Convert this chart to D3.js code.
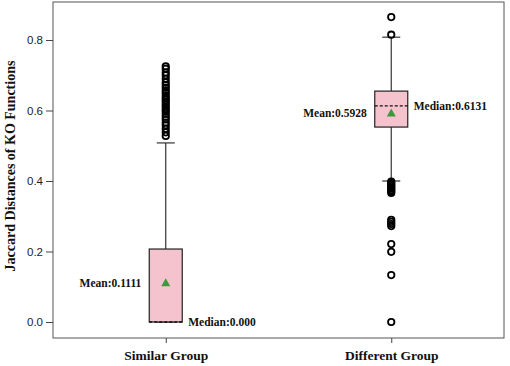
<!DOCTYPE html>
<html><head><meta charset="utf-8">
<script src="https://cdn.jsdelivr.net/npm/d3@7"></script>
<style>body{margin:0;background:#fff}svg{display:block}</style>
</head><body>
<script>
const categories = ["Similar Group", "Different Group"];
const q1 = [0.0, 0.553];
const medians = [0.0, 0.6131];
const q3 = [0.207, 0.655];
const whiskerLow = [0.0, 0.400];
const whiskerHigh = [0.508, 0.808];
const means = [0.1111, 0.5928];
const outliersSimilar = [0.725,0.718,0.708,0.70,0.69,0.68,0.672,0.665,0.657,0.65,0.643,0.636,0.63,0.624,0.617,0.61,0.603,0.597,0.59,0.582,0.575,0.566,0.558,0.548,0.538,0.528];
const outliersDifferent = [0.865,0.815,0.398,0.394,0.390,0.386,0.382,0.378,0.374,0.370,0.366,0.29,0.284,0.278,0.272,0.221,0.199,0.133,0.0];
const yTicks = [0.0, 0.2, 0.4, 0.6, 0.8];
const meanLabels = ["Mean:0.1111", "Mean:0.5928"];
const medianLabels = ["Median:0.000", "Median:0.6131"];
const outliers = [outliersSimilar, outliersDifferent];

const W = 510, H = 366;
const svg = d3.select("body").append("svg").attr("width", W).attr("height", H);
const L = 53, R = 504, T = 2, B = 338;
const y = d3.scaleLinear().domain([-0.0454, 0.9078]).range([B, T]);
const x = d3.scalePoint().domain(categories).range([L, R]).padding(0.5);
const bw = 33, cap = 18;

// frame
svg.append("rect").attr("x", L).attr("y", T).attr("width", R - L).attr("height", B - T)
  .attr("fill", "none").attr("stroke", "#555").attr("stroke-width", 1);

// y axis
const ya = svg.append("g").attr("transform", `translate(${L},0)`)
  .call(d3.axisLeft(y).tickValues(yTicks).tickFormat(d3.format(".1f")).tickSize(7).tickPadding(3));
ya.select(".domain").remove();
ya.selectAll("line").attr("stroke", "#444");
ya.selectAll("text").attr("font-family", "Liberation Sans, Arial, sans-serif").attr("font-size", 11.5).attr("fill", "#222");

// x axis
const xa = svg.append("g").attr("transform", `translate(0,${B})`)
  .call(d3.axisBottom(x).tickSize(5).tickPadding(7));
xa.select(".domain").remove();
xa.selectAll("line").attr("stroke", "#444");
xa.selectAll("text").attr("font-family", "Liberation Serif, Times New Roman, serif").attr("font-weight", "bold")
  .attr("font-size", 13.5).attr("fill", "#111");

// y title
svg.append("text").attr("transform", `translate(15,${(T + B) / 2 - 4}) rotate(-90)`)
  .attr("text-anchor", "middle").attr("font-family", "Liberation Serif, Times New Roman, serif")
  .attr("font-weight", "bold").attr("font-size", 14).attr("fill", "#111")
  .text("Jaccard Distances of KO Functions");

categories.forEach((c, i) => {
  const cx = x(c);
  const g = svg.append("g");
  g.append("line").attr("x1", cx).attr("x2", cx).attr("y1", y(q3[i])).attr("y2", y(whiskerHigh[i])).attr("stroke", "#333").attr("stroke-width", 1.2);
  g.append("line").attr("x1", cx).attr("x2", cx).attr("y1", y(q1[i])).attr("y2", y(whiskerLow[i])).attr("stroke", "#333").attr("stroke-width", 1.2);
  [whiskerHigh[i], whiskerLow[i]].forEach(v => {
    g.append("line").attr("x1", cx - cap / 2).attr("x2", cx + cap / 2).attr("y1", y(v)).attr("y2", y(v)).attr("stroke", "#333").attr("stroke-width", 1.2);
  });
  g.append("rect").attr("x", cx - bw / 2).attr("y", y(q3[i])).attr("width", bw).attr("height", y(q1[i]) - y(q3[i]))
    .attr("fill", "#f5c3cd").attr("stroke", "#222").attr("stroke-width", 1.2);
  g.append("line").attr("x1", cx - bw / 2).attr("x2", cx + bw / 2).attr("y1", y(medians[i])).attr("y2", y(medians[i]))
    .attr("stroke", "#111").attr("stroke-width", 1.3).attr("stroke-dasharray", "3,2");
  const ym = y(means[i]);
  g.append("path").attr("d", `M${cx},${ym - 4.5}L${cx + 4.5},${ym + 3.5}L${cx - 4.5},${ym + 3.5}Z`).attr("fill", "#3c9a3c");
  g.selectAll("circle").data(outliers[i]).join("circle")
    .attr("cx", cx).attr("cy", d => y(d)).attr("r", 3.2)
    .attr("fill", "none").attr("stroke", "#000").attr("stroke-width", 1.8);
  g.append("text").attr("x", cx - bw / 2 - 8).attr("y", ym + 4).attr("text-anchor", "end")
    .attr("font-family", "Liberation Serif, Times New Roman, serif").attr("font-weight", "bold").attr("font-size", 11.5).attr("fill", "#111")
    .text(meanLabels[i]);
  g.append("text").attr("x", cx + bw / 2 + 6).attr("y", y(medians[i]) + 4).attr("text-anchor", "start")
    .attr("font-family", "Liberation Serif, Times New Roman, serif").attr("font-weight", "bold").attr("font-size", 11.5).attr("fill", "#111")
    .text(medianLabels[i]);
});
</script>
</body></html>
